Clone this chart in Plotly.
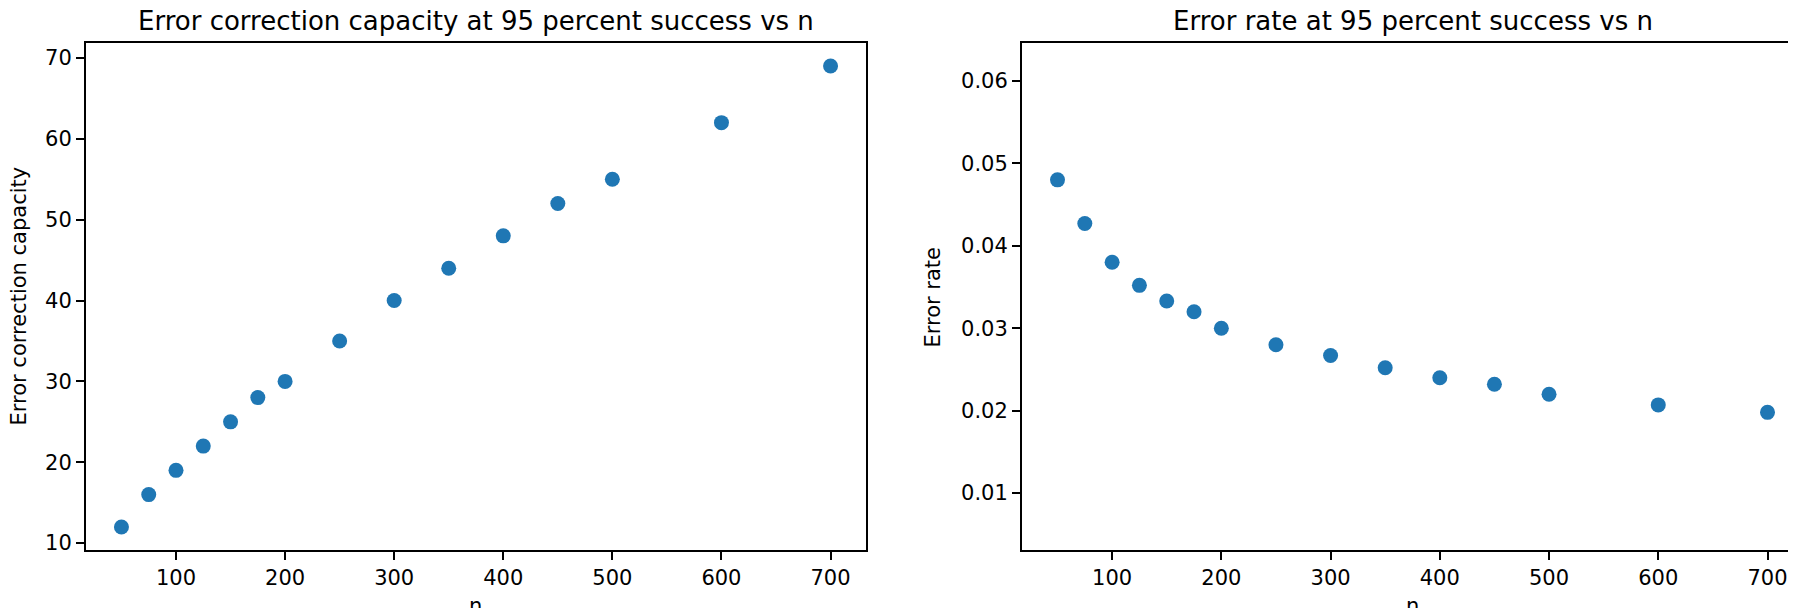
import plotly.graph_objects as go
from plotly.subplots import make_subplots

n_values = [50, 75, 100, 125, 150, 175, 200, 250, 300, 350, 400, 450, 500, 600, 700]
capacity = [12, 16, 19, 22, 25, 28, 30, 35, 40, 44, 48, 52, 55, 62, 69]
error_rate = [0.048, 0.0427, 0.038, 0.0352, 0.0333, 0.032, 0.030, 0.028,
              0.0267, 0.0252, 0.024, 0.0232, 0.022, 0.0207, 0.0198]

left_title = "Error correction capacity at 95 percent success vs n"
right_title = "Error rate at 95 percent success vs n"
left_ylabel = "Error correction capacity"
right_ylabel = "Error rate"
xlabel = "n"

W, H = 1796, 608
T, B = 35, 66
PH = H - T - B
FONT = "DejaVu Sans"
BLUE = "#1f77b4"

fig = go.Figure()
fig.add_trace(go.Scatter(x=n_values, y=capacity, mode="markers",
                         marker=dict(size=15, color=BLUE), xaxis="x", yaxis="y"))
fig.add_trace(go.Scatter(x=n_values, y=error_rate, mode="markers",
                         marker=dict(size=15, color=BLUE), xaxis="x2", yaxis="y2"))

axis_common = dict(showline=True, linecolor="black", linewidth=2, mirror=True,
                   ticks="outside", ticklen=8, tickwidth=1.7, tickcolor="black",
                   showgrid=False, zeroline=False,
                   tickfont=dict(family=FONT, size=21, color="black"))

d1 = [78 / W, 858 / W]
d2 = [1014 / W, 1795 / W]

fig.update_layout(
    width=W, height=H,
    margin=dict(l=0, r=0, t=T, b=B),
    paper_bgcolor="white", plot_bgcolor="white",
    showlegend=False,
    font=dict(family=FONT, color="black"),
    xaxis=dict(domain=d1, range=[17.5, 732.5], tickvals=[100, 200, 300, 400, 500, 600, 700],
               anchor="y", **axis_common),
    yaxis=dict(domain=[0, 1], range=[9.15, 71.85], tickvals=[10, 20, 30, 40, 50, 60, 70],
               anchor="x", **axis_common),
    xaxis2=dict(domain=d2, range=[17.5, 732.5], tickvals=[100, 200, 300, 400, 500, 600, 700],
                anchor="y2", **axis_common),
    yaxis2=dict(domain=[0, 1], range=[0.0031, 0.0646],
                tickvals=[0.01, 0.02, 0.03, 0.04, 0.05, 0.06],
                ticktext=["0.01", "0.02", "0.03", "0.04", "0.05", "0.06"],
                anchor="x2", **axis_common),
)

ann = []
for dom, title in [(d1, left_title), (d2, right_title)]:
    ann.append(dict(text=title, xref="paper", yref="paper", x=(dom[0] + dom[1]) / 2,
                    y=1 + 22 / PH, xanchor="center", yanchor="middle", showarrow=False,
                    font=dict(family=FONT, size=26, color="black")))
    ann.append(dict(text=xlabel, xref="paper", yref="paper", x=(dom[0] + dom[1]) / 2,
                    y=-(597.5 - (H - B)) / PH, xanchor="center", yanchor="middle",
                    showarrow=False, font=dict(family=FONT, size=21, color="black")))
ann.append(dict(text=left_ylabel, xref="paper", yref="paper", x=10 / W, y=0.5,
                xanchor="center", yanchor="middle", textangle=-90, showarrow=False,
                font=dict(family=FONT, size=21, color="black")))
ann.append(dict(text=right_ylabel, xref="paper", yref="paper", x=924 / W, y=0.5,
                xanchor="center", yanchor="middle", textangle=-90, showarrow=False,
                font=dict(family=FONT, size=21, color="black")))
fig.update_layout(annotations=ann)

fig.write_html("out.html")
